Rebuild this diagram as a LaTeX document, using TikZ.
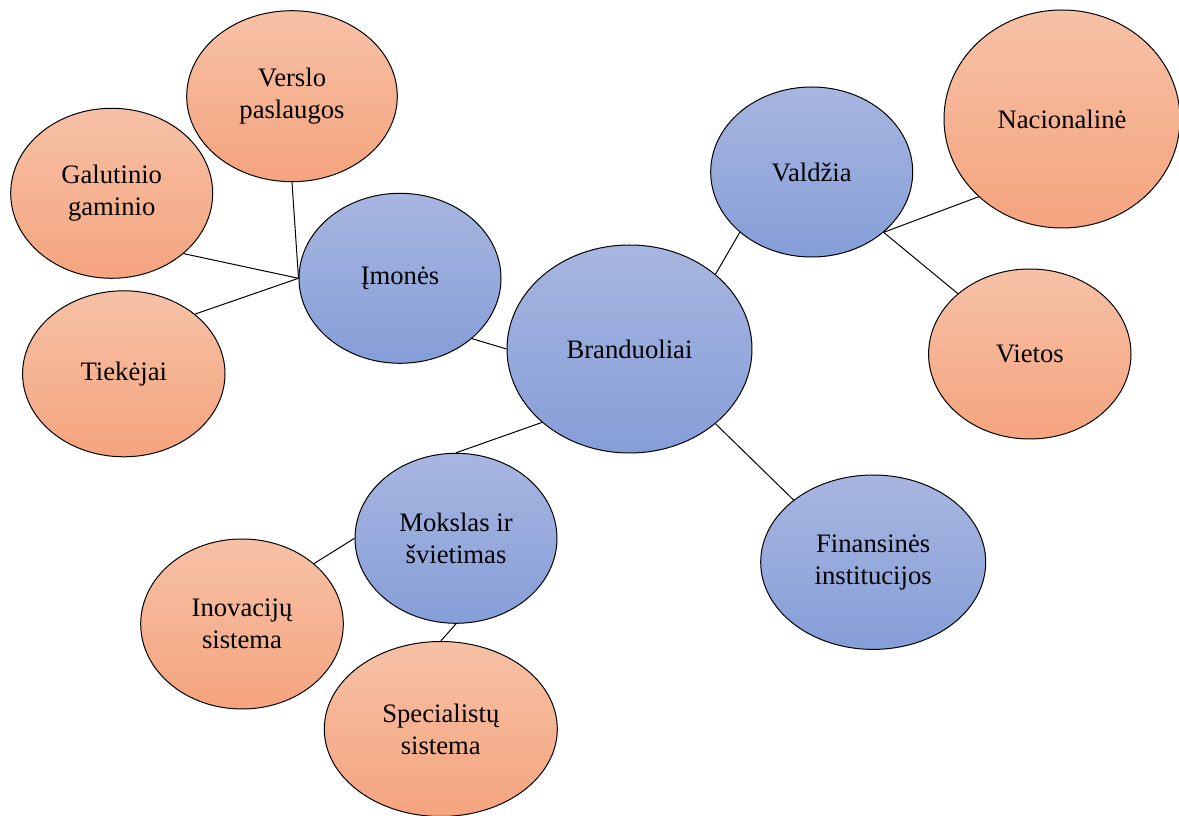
\documentclass[tikz,border=0pt]{standalone}
\usepackage{fontspec}
\setmainfont{Liberation Serif}
\usetikzlibrary{shapes.geometric}
\definecolor{blueTop}{RGB}{168,182,224}
\definecolor{blueBot}{RGB}{133,158,216}
\definecolor{orTop}{RGB}{246,193,166}
\definecolor{orBot}{RGB}{245,164,126}
\begin{document}
\begin{tikzpicture}[x=0.75pt,y=-0.75pt,
  bubble/.style 2 args={ellipse, draw=black, line width=0.75pt, inner sep=0pt,
    minimum width=#1*1.5pt, minimum height=#2*1.5pt, align=center,
    font=\fontsize{20}{24}\selectfont},
  core/.style={top color=blueTop, bottom color=blueBot},
  leaf/.style={top color=orTop, bottom color=orBot},
  link/.style={draw=black, line width=0.75pt}]
\useasboundingbox (0,0) rectangle (1179,816);

% central cluster
\node[bubble={122.5}{104}, core] (bra) at (629.5,349) {Branduoliai};
\node[bubble={101}{85}, core] (imo) at (400,278.3) {Įmonės};
\node[bubble={101}{85}, core] (val) at (811.7,172) {Valdžia};
\node[bubble={112.5}{87.2}, core] (fin) at (873.2,562.2) {Finansinės\\institucijos};
\node[bubble={101}{85}, core] (mok) at (456,538.3) {Mokslas ir\\švietimas};

% outer elements
\node[bubble={105.3}{85.5}, leaf] (ver) at (292,96.2) {Verslo\\paslaugos};
\node[bubble={101}{85}, leaf] (gal) at (111.7,193.3) {Galutinio\\gaminio};
\node[bubble={101.2}{83}, leaf] (tie) at (123.8,373.8) {Tiekėjai};
\node[bubble={118}{109}, leaf] (nac) at (1062,119) {Nacionalinė};
\node[bubble={101.2}{85}, leaf] (vie) at (1029.8,354) {Vietos};
\node[bubble={101.3}{85}, leaf] (ino) at (242,624) {Inovacijų\\sistema};
\node[bubble={116.5}{87.5}, leaf] (spe) at (440.8,729) {Specialistų\\sistema};

% connectors
\path[link] (imo.180) -- (ver.-90);
\path[link] (imo.180) -- (gal.-40);
\path[link] (imo.180) -- (tie.40);
\path[link] (imo.-40) -- (bra.180);
\path[link] (bra.41) -- (val.220);
\path[link] (val.-40) -- (nac.223);
\path[link] (val.-40) -- (vie.140);
\path[link] (bra.-41) -- (fin.142);
\path[link] (bra.220) -- (mok.90);
\path[link] (mok.180) -- (ino.40);
\path[link] (mok.-90) -- (spe.90);
\end{tikzpicture}
\end{document}
